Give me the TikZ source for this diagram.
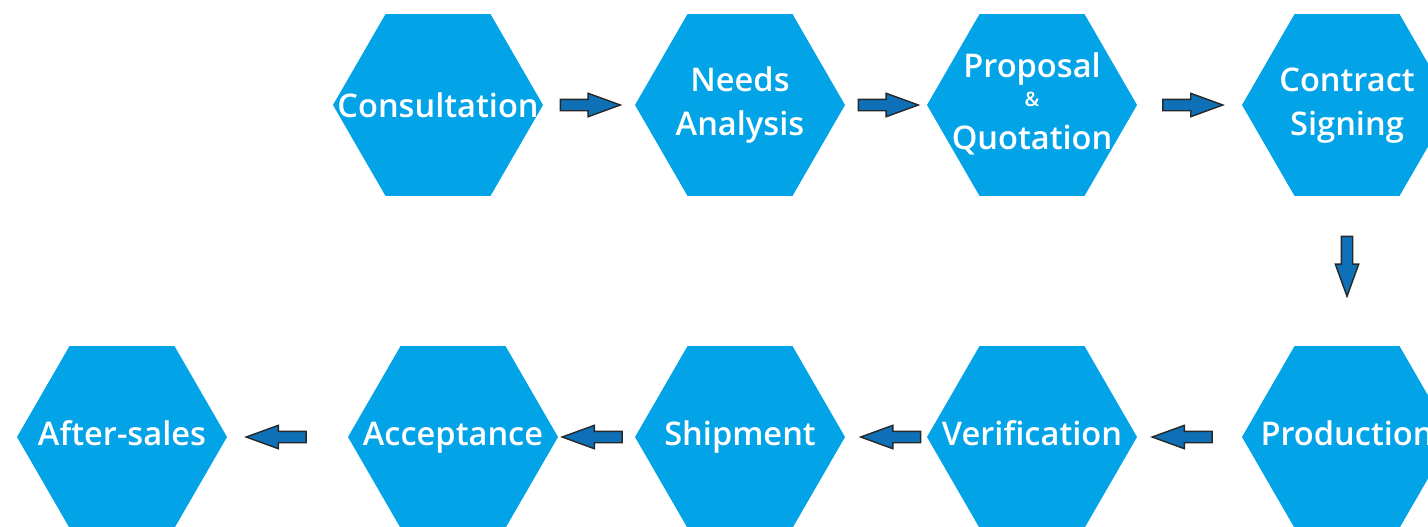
\documentclass[tikz,border=0pt]{standalone}
\usepackage{fontspec}
\IfFontExistsTF{Open Sans Semibold}
    {\setmainfont{Open Sans}[BoldFont={Open Sans Semibold}]}
    {\IfFontExistsTF{OpenSans-SemiBold}
        {\setmainfont{Open Sans}[BoldFont={OpenSans-SemiBold}]}
        {\setmainfont{Open Sans}}}
\usetikzlibrary{shapes.geometric,shapes.arrows,calc}
\definecolor{hexblue}{RGB}{3,163,232}
\definecolor{arrowblue}{RGB}{14,112,182}
\definecolor{arrowline}{RGB}{40,40,40}
\newcommand{\hextext}[1]{\makebox[0pt]{\begin{tabular}{@{}c@{}}#1\end{tabular}}}
\tikzset{
    hexa/.style={regular polygon, regular polygon sides=6, minimum size=105pt, inner sep=0pt,
        fill=hexblue, text=white, font=\fontsize{16.3}{22}\selectfont\bfseries},
    blockarrow/.style={single arrow, fill=arrowblue, draw=arrowline, line width=0.7pt,
        minimum height=30pt, inner sep=2.5pt, single arrow head extend=3pt, single arrow tip angle=40}
}
\begin{document}
\begin{tikzpicture}[x=0.5pt,y=-0.5pt]
    \clip (0,0) rectangle (1428,526);
    % top row
    \node[hexa] (consult) at (438,105) {\hextext{\raisebox{-2pt}{Consultation}}};
    \node[hexa] (needs) at (740,105) {\hextext{Needs\\Analysis}};
    \node[hexa] (proposal) at (1032,105) {\hextext{Proposal\\[-4pt]\raisebox{3.5pt}{\fontsize{10}{10}\selectfont\&}\\[-4pt]Quotation}};
    \node[hexa] (contract) at (1347,105) {\hextext{Contract\\Signing}};
    % bottom row
    \node[hexa] (production) at (1347,437) {\hextext{Production}};
    \node[hexa] (verify) at (1032,437) {\hextext{Verification}};
    \node[hexa] (shipment) at (740,437) {\hextext{Shipment}};
    \node[hexa] (accept) at (453,437) {\hextext{Acceptance}};
    \node[hexa] (aftersales) at (122,437) {\hextext{After-sales}};
    % arrows between steps
    \foreach \a/\b/\r/\dx/\dy in {consult/needs/0/-6.5/0, needs/proposal/0/-5.5/0, proposal/contract/0/-4.5/0,
        contract/production/270/0/-12.5, production/verify/180/0.5/0, verify/shipment/180/12.5/0,
        shipment/accept/180/3.5/0, accept/aftersales/180/-3.5/0}
        \node[blockarrow, shape border rotate=\r] at ($(\a)!0.5!(\b)+(\dx,\dy)$) {};
\end{tikzpicture}
\end{document}
